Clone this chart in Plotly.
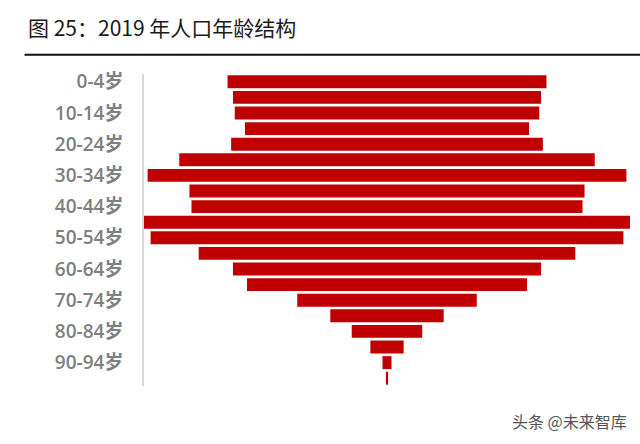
import plotly.graph_objects as go

# Age groups (top to bottom)
age_groups = ["0-4岁", "5-9岁", "10-14岁", "15-19岁", "20-24岁", "25-29岁", "30-34岁",
              "35-39岁", "40-44岁", "45-49岁", "50-54岁", "55-59岁", "60-64岁", "65-69岁",
              "70-74岁", "75-79岁", "80-84岁", "85-89岁", "90-94岁", "95岁及以上"]
# Population (approx., 万人)
population = [7960, 7690, 7600, 7090, 7780, 10370, 11950, 9860, 9760, 12130,
              11800, 9400, 7690, 6990, 4480, 2830, 1760, 830, 225, 55]
# Labels shown on the axis
tick_labels = age_groups[0:19:2]

half_max = max(population) / 2
bases = [-v / 2 for v in population]

fig = go.Figure()
fig.add_trace(go.Bar(
    y=age_groups, x=population, base=bases, orientation="h",
    marker=dict(color="#c00000", line=dict(width=0)),
    hoverinfo="y+x",
))

W, H = 640, 444
L, R, T, B = 143.5, 10.3, 74.2, 58.2
pw = W - L - R
ph = H - T - B

def px_x(x):
    return (x - L) / pw

def px_y(y):
    return (H - B - y) / ph

fig.update_layout(
    width=W, height=H,
    margin=dict(l=L, r=R, t=T, b=B, autoexpand=False),
    paper_bgcolor="white", plot_bgcolor="white",
    showlegend=False,
    bargap=0.17,
    title=dict(
        text="图 25：2019 年人口年龄结构",
        xref="container", yref="container",
        x=28 / W, xanchor="left",
        y=1 - 29 / H, yanchor="middle",
        font=dict(family="Noto Sans CJK SC", size=21, color="#1a1a1a"),
    ),
    xaxis=dict(range=[-half_max, half_max], visible=False, fixedrange=True),
    yaxis=dict(
        categoryorder="array", categoryarray=age_groups, autorange="reversed",
        tickmode="array", tickvals=tick_labels, ticktext=tick_labels,
        showline=True, linecolor="#d9d9d9", linewidth=1.5,
        showgrid=False, zeroline=False,
        ticks="outside", ticklen=15, tickcolor="rgba(0,0,0,0)",
        tickfont=dict(family="Open Sans, Noto Sans CJK SC", size=19, color="#808080",
                      weight=600),
    ),
    shapes=[dict(
        type="line", xref="paper", yref="paper",
        x0=px_x(24), x1=px_x(640), y0=px_y(55), y1=px_y(55),
        line=dict(color="#111111", width=2),
    )],
    annotations=[dict(
        text="头条 @未来智库", xref="paper", yref="paper",
        x=px_x(569), y=px_y(421), xanchor="center", yanchor="middle",
        showarrow=False,
        font=dict(family="Noto Sans CJK SC", size=16, color="#555555"),
    )],
)

fig.write_html("out.html")
